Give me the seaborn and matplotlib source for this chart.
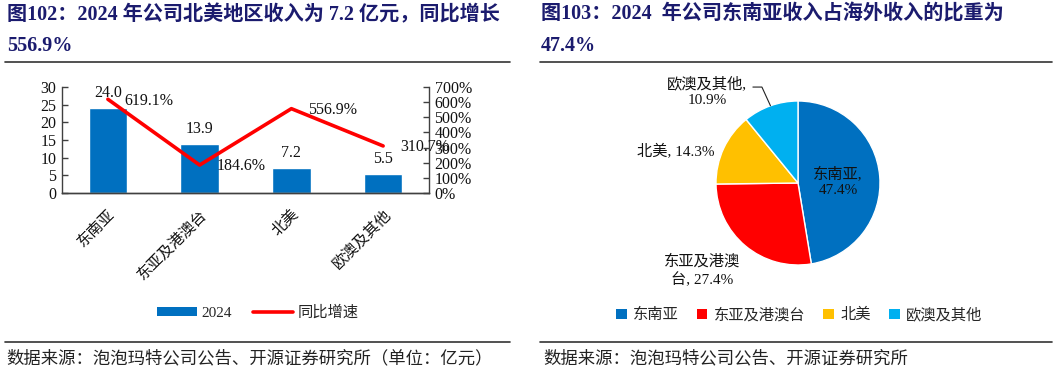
import numpy as np
import pandas as pd
import matplotlib
matplotlib.use("Agg")
import matplotlib.pyplot as plt
from matplotlib.lines import Line2D
from matplotlib.patches import Patch
from matplotlib.ticker import FuncFormatter, FixedLocator
import seaborn as sns

# ---------------- data ----------------
regions = ["东南亚", "东亚及港澳台", "北美", "欧澳及其他"]
revenue_2024 = [24.0, 13.9, 7.2, 5.5]          # 亿元
yoy_growth = [619.1, 184.6, 556.9, 310.7]      # %
share_labels = ["东南亚", "东亚及港澳台", "北美", "欧澳及其他"]
share_values = [47.4, 27.4, 14.3, 10.9]        # %
left_ticks = [0, 5, 10, 15, 20, 25, 30]
right_ticks = [0, 100, 200, 300, 400, 500, 600, 700]

title_left_1 = "图102：2024 年公司北美地区收入为 7.2 亿元，同比增长"
title_left_2 = "556.9%"
title_right_1 = "图103：2024  年公司东南亚收入占海外收入的比重为"
title_right_2 = "47.4%"
source_left = "数据来源：泡泡玛特公司公告、开源证券研究所（单位：亿元）"
source_right = "数据来源：泡泡玛特公司公告、开源证券研究所"

# ---------------- style ----------------
sns.set_style("white")
FONTS = ["Liberation Serif", "Noto Sans CJK SC", "DejaVu Sans"]
plt.rcParams["font.family"] = FONTS
plt.rcParams["axes.unicode_minus"] = False

BLUE = "#0070C0"
RED = "#FF0000"
YELLOW = "#FFC000"
CYAN = "#00B0F0"
NAVY = "#1B1B6E"
AXC = "#404040"

W, H = 1057, 374
fig = plt.figure(figsize=(W / 100, H / 100), dpi=100)
fig.patch.set_facecolor("white")


def fx(x):
    return x / W


def fy(y):
    return 1 - y / H


def hrule(x0, x1, y, lw=1.2, color="#333333"):
    fig.add_artist(Line2D([fx(x0), fx(x1)], [fy(y), fy(y)], transform=fig.transFigure,
                          color=color, lw=lw))


# ---------------- titles & footers ----------------
tkw = dict(fontsize=14.5, fontweight="bold", color=NAVY, ha="left", va="center")
fig.text(fx(7), fy(15), title_left_1, **tkw)
fig.text(fx(7), fy(46), title_left_2, **tkw)
fig.text(fx(541), fy(15), title_right_1, **tkw)
fig.text(fx(541), fy(46), title_right_2, **tkw)
hrule(5, 510, 62)
hrule(540, 1052, 62)
hrule(5, 510, 342)
hrule(540, 1052, 342)
skw = dict(fontsize=12.5, color="#222222", ha="left", va="center")
fig.text(fx(6), fy(359), source_left, **skw)
fig.text(fx(543), fy(359), source_right, **skw)

# ---------------- left: bar + line ----------------
ax = fig.add_axes([fx(62), fy(193), (429 - 62) / W, (193 - 87) / H])
df = pd.DataFrame({"region": regions, "revenue": revenue_2024})
sns.barplot(data=df, x="region", y="revenue", color=BLUE, width=0.42,
            saturation=1, ax=ax, zorder=2)
ax.set_xlim(-0.5, len(regions) - 0.5)
ax.set_ylim(0, 30)
ax.set_yticks(left_ticks)
ax.set_xlabel("")
ax.set_ylabel("")
for c in ax.containers:
    ax.bar_label(c, fmt="%.1f", padding=5, fontsize=11.5, color="#111111")

ax2 = ax.twinx()
sns.lineplot(x=np.arange(len(regions)), y=yoy_growth, ax=ax2, color=RED, lw=2.6,
             zorder=3)
ax2.set_ylim(0, 700)
ax2.set_yticks(right_ticks)
ax2.yaxis.set_major_formatter(FuncFormatter(lambda v, p: f"{v:.0f}%"))
for i, g in enumerate(yoy_growth):
    ax2.annotate(f"{g:.1f}%", (i, g), xytext=(12, -1), textcoords="offset points",
                 ha="left", va="center", fontsize=11.5, color="#111111")

for a in (ax, ax2):
    for s in a.spines.values():
        s.set_color(AXC)
        s.set_linewidth(1)
    a.spines["top"].set_visible(False)
    a.tick_params(axis="y", direction="in", length=4, width=1, color=AXC,
                  labelsize=11.5, labelcolor="#111111", pad=4)
ax.spines["right"].set_visible(False)
ax2.spines["left"].set_visible(False)

ax.set_xticks(range(len(regions)))
ax.set_xticklabels(regions, rotation=45, ha="right", va="top",
                   rotation_mode="anchor", fontsize=11, color="#111111")
ax.tick_params(axis="x", which="major", length=0, pad=10)
ax.xaxis.set_minor_locator(FixedLocator(np.arange(0.5, len(regions) - 0.5, 1)))
ax.tick_params(axis="x", which="minor", direction="in", length=4, width=1, color=AXC)

h_bar = Patch(facecolor=BLUE, edgecolor="none", label="2024")
h_line = Line2D([], [], color=RED, lw=2.6, label="同比增速")
fig.legend(handles=[h_bar, h_line], loc="center", bbox_to_anchor=(fx(258), fy(313)),
           ncol=2, frameon=False, fontsize=11, handlelength=2.6, handleheight=0.5,
           columnspacing=1.4, handletextpad=0.3)

# ---------------- right: pie ----------------
r = 82
pax = fig.add_axes([fx(798 - r), fy(183 + r), 2 * r / W, 2 * r / H])
pie_colors = [BLUE, RED, YELLOW, CYAN]
wedges, _ = pax.pie(share_values, colors=pie_colors, startangle=90, counterclock=False,
                    wedgeprops=dict(edgecolor="white", linewidth=1))
pax.set_xlim(-1, 1)
pax.set_ylim(-1, 1)
pax.set_aspect("equal")
pax.axis("off")

label_pos = [(0.49, 0.02), (-1.17, -1.07), (-1.49, 0.38), (-1.11, 1.11)]
label_txt = [f"{share_labels[0]},\n{share_values[0]:.1f}%",
             f"东亚及港澳\n台, {share_values[1]:.1f}%",
             f"{share_labels[2]}, {share_values[2]:.1f}%",
             f"{share_labels[3]},\n{share_values[3]:.1f}%"]
for (lx, ly), t in zip(label_pos, label_txt):
    pax.text(lx, ly, t, ha="center", va="center", fontsize=11, color="#111111",
             linespacing=1.3, clip_on=False)
# leader line for the last slice
w = wedges[3]
mid = np.deg2rad((w.theta1 + w.theta2) / 2)
pax.plot([-0.55, -0.44, np.cos(mid) * 1.0], [1.17, 1.17, np.sin(mid) * 1.0],
         color="#222222", lw=0.8, clip_on=False)

pie_handles = [Patch(facecolor=c, edgecolor="none", label=l)
               for c, l in zip(pie_colors, share_labels)]
fig.legend(handles=pie_handles, loc="center", bbox_to_anchor=(fx(799), fy(315)),
           ncol=4, frameon=False, fontsize=11, handlelength=0.7, handleheight=0.7,
           columnspacing=1.2, handletextpad=0.4)

fig.savefig("out.png", dpi=100, facecolor="white")
